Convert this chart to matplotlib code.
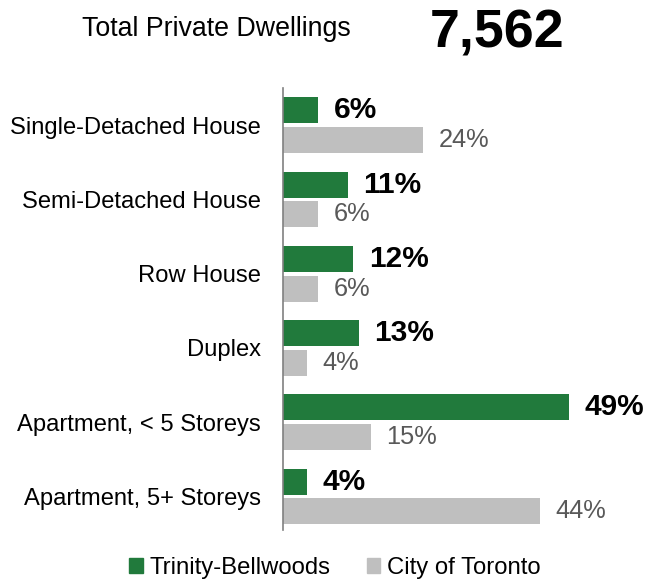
import matplotlib
matplotlib.use('Agg')
import matplotlib.pyplot as plt
from matplotlib.patches import Patch

plt.rcParams['font.family'] = ['Liberation Sans', 'DejaVu Sans']

categories = ['Single-Detached House', 'Semi-Detached House', 'Row House',
              'Duplex', 'Apartment, < 5 Storeys', 'Apartment, 5+ Storeys']
neighbourhood = [6, 11, 12, 13, 49, 4]
city = [24, 6, 6, 4, 15, 44]
total_dwellings = '7,562'

green = '#217A3C'
grey = '#BFBFBF'

fig = plt.figure(figsize=(6.45, 5.83), dpi=100)
ax = fig.add_axes([0.4395, 0.091, 0.56, 0.758])

pos = list(range(len(categories)))
off = 0.2
h = 0.35
ax.barh([p - off for p in pos], neighbourhood, height=h, color=green)
ax.barh([p + off for p in pos], city, height=h, color=grey)

# value labels just past the bar ends
for p, v in zip(pos, neighbourhood):
    ax.annotate('%d%%' % v, (v, p - off), xytext=(11, 0), textcoords='offset points',
                va='center', ha='left', fontsize=21.5, fontweight='bold', color='black')
for p, v in zip(pos, city):
    ax.annotate('%d%%' % v, (v, p + off), xytext=(11, 0), textcoords='offset points',
                va='center', ha='left', fontsize=18.3, color='#595959')

ax.set_yticks(pos)
ax.set_yticklabels(categories, fontsize=17.1)
ax.tick_params(axis='y', length=0, pad=16.5)
ax.set_xticks([])
ax.set_xlim(0, 62)
ax.set_ylim(5.45, -0.5)
for s in ['top', 'right', 'bottom']:
    ax.spines[s].set_visible(False)
ax.spines['left'].set_color('#808080')
ax.spines['left'].set_linewidth(1.2)

fig.text(216 / 645, 1 - 29 / 583, 'Total Private Dwellings', ha='center', va='center', fontsize=19.3)
fig.text(497 / 645, 1 - 33 / 583, total_dwellings, ha='center', va='center',
         fontsize=38.7, fontweight='bold')

handles = [Patch(color=green, label='Trinity-Bellwoods'),
           Patch(color=grey, label='City of Toronto')]
fig.legend(handles=handles, loc='center', bbox_to_anchor=(335 / 645, 1 - 568 / 583), ncol=2,
           frameon=False, fontsize=17.2, handlelength=0.55, handleheight=0.55,
           handletextpad=0.3, columnspacing=1.5)

fig.savefig('out.png', dpi=100)
